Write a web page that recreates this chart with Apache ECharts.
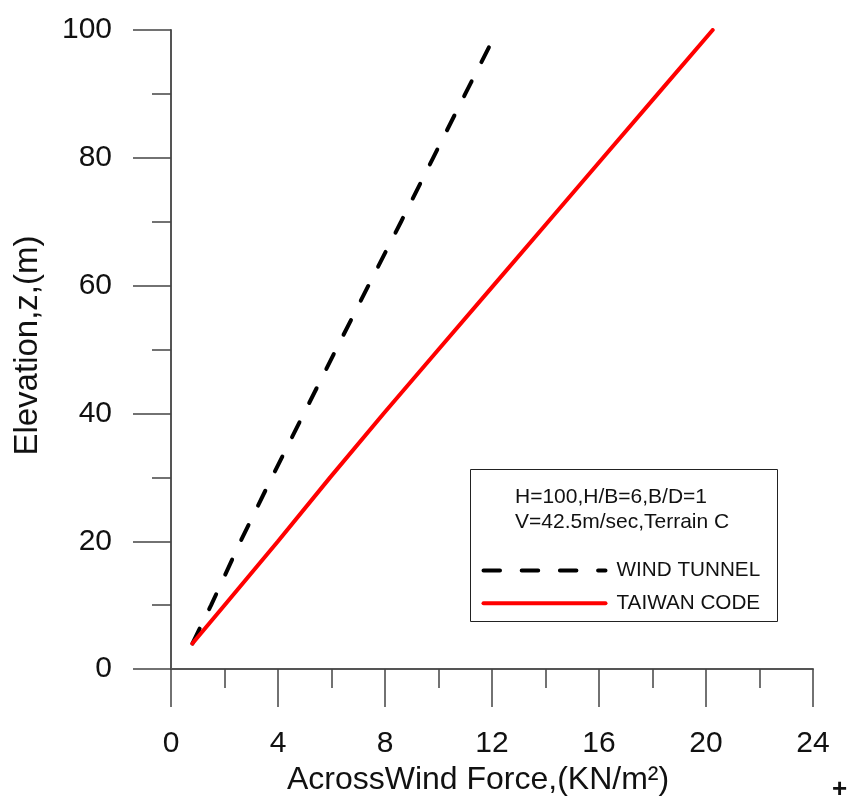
<!DOCTYPE html>
<html>
<head>
<meta charset="utf-8">
<script src="https://cdn.jsdelivr.net/npm/echarts@6/dist/echarts.min.js"></script>
<style>html,body{margin:0;padding:0;background:#fff;}#chart{width:849px;height:801px;}</style>
</head>
<body>
<div id="chart"></div>
<script>
// Data
const xTicks = [0, 4, 8, 12, 16, 20, 24];
const yTicks = [0, 20, 40, 60, 80, 100];
const seriesNames = ['WIND TUNNEL', 'TAIWAN CODE'];
const elevationWT = [4, 10, 20, 30, 40, 50, 60, 70, 80, 90, 98];
const forceWT = [0.8, 1.5, 2.6, 3.77, 4.97, 6.17, 7.38, 8.6, 9.8, 11.0, 11.97];
const elevationTC = [4, 10, 20, 30, 40, 50, 60, 70, 80, 90, 100];
const forceTC = [0.8, 2.0, 4.0, 5.95, 7.95, 10.0, 12.05, 14.1, 16.15, 18.2, 20.25];
const noteLines = ['H=100,H/B=6,B/D=1', 'V=42.5m/sec,Terrain C'];

const FONT = '"Liberation Sans", Arial, sans-serif';
const pairs = (xs, ys) => xs.map((x, i) => [x, ys[i]]);

const chart = echarts.init(document.getElementById('chart'), null, {renderer: 'canvas'});
const axisColor = '#555';
chart.setOption({
  animation: false,
  backgroundColor: '#fff',
  grid: {left: 171, top: 30, width: 642, height: 642, containLabel: false},
  title: {
    text: noteLines.join('\n'),
    left: 510, top: 479,
    textStyle: {fontFamily: FONT, fontSize: 21, fontWeight: 'normal', color: '#111', lineHeight: 25.7}
  },
  legend: {
    data: seriesNames,
    orient: 'vertical',
    left: 476.5, top: 555,
    itemWidth: 122, itemHeight: 20, itemGap: 11.7,
    itemStyle: {opacity: 0},
    lineStyle: {width: 4, cap: 'round'},
    textStyle: {fontFamily: FONT, fontSize: 20.7, color: '#111', padding: [0, 0, 0, 6]}
  },
  xAxis: {
    type: 'value',
    min: xTicks[0], max: xTicks[xTicks.length - 1], interval: 4,
    name: 'AcrossWind Force,(KN/m²)',
    nameLocation: 'middle', nameGap: 92,
    nameTextStyle: {fontFamily: FONT, fontSize: 32, color: '#111', padding: [0, 28, 0, 0]},
    axisLine: {show: true, onZero: false, lineStyle: {color: axisColor, width: 2}},
    axisTick: {show: true, length: 38, inside: false, lineStyle: {color: '#444', width: 1.5}},
    minorTick: {show: true, splitNumber: 2, length: 19, lineStyle: {color: '#444', width: 1.5}},
    splitLine: {show: false},
    minorSplitLine: {show: false},
    axisLabel: {fontFamily: FONT, fontSize: 30, color: '#111', margin: 60}
  },
  yAxis: {
    type: 'value',
    min: yTicks[0], max: yTicks[yTicks.length - 1], interval: 20,
    name: 'Elevation,z,(m)',
    nameLocation: 'middle', nameGap: 127,
    nameTextStyle: {fontFamily: FONT, fontSize: 33, color: '#111', padding: [0, 0, 0, 8]},
    axisLine: {show: true, onZero: false, lineStyle: {color: axisColor, width: 2}},
    axisTick: {show: true, length: 38, inside: false, lineStyle: {color: '#444', width: 1.5}},
    minorTick: {show: true, splitNumber: 2, length: 19, lineStyle: {color: '#444', width: 1.5}},
    splitLine: {show: false},
    minorSplitLine: {show: false},
    axisLabel: {fontFamily: FONT, fontSize: 30, color: '#111', margin: 59}
  },
  graphic: [
    {type: 'rect', shape: {x: 470.5, y: 469.5, width: 307, height: 152},
     style: {fill: 'none', stroke: '#222', lineWidth: 1}, z: 10},
    {type: 'text', x: 839.5, y: 790, style: {text: '+', fontFamily: FONT, fontSize: 26, fontWeight: 'bold', fill: '#111', align: 'center', verticalAlign: 'middle'}}
  ],
  series: [
    {
      name: seriesNames[0], type: 'line', data: pairs(forceWT, elevationWT),
      symbol: 'none', smooth: false,
      lineStyle: {color: '#000', width: 4, type: [16.5, 21.7], cap: 'round'},
      itemStyle: {color: '#000'}
    },
    {
      name: seriesNames[1], type: 'line', data: pairs(forceTC, elevationTC),
      symbol: 'none', smooth: false,
      lineStyle: {color: '#ff0000', width: 4, cap: 'round'},
      itemStyle: {color: '#ff0000'}
    }
  ]
});
</script>
</body>
</html>
